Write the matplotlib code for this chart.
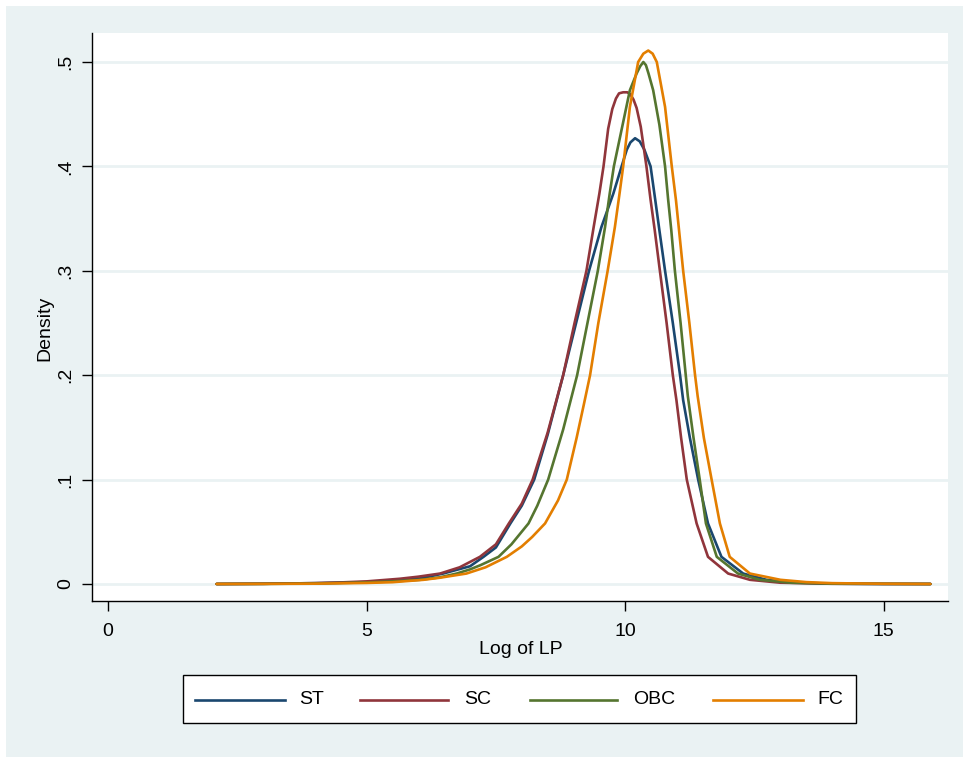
import matplotlib
matplotlib.use("Agg")
import matplotlib.pyplot as plt
from matplotlib.patches import Rectangle
from matplotlib.lines import Line2D

plt.rcParams['font.family'] = ['Liberation Sans', 'DejaVu Sans']

# ---- data ----
series_names = ["ST", "SC", "OBC", "FC"]
series_colors = ["#1A476F", "#90353B", "#55752F", "#E37E00"]

st_x = [2.1, 3.0, 4.0, 4.5, 5.0, 5.5, 6.0, 6.48, 7.0, 7.26, 7.5, 7.78, 8.0, 8.24, 8.5,
        8.8, 9.05, 9.3, 9.54, 9.77, 9.93, 10.03, 10.10, 10.19, 10.28, 10.37, 10.49, 10.58,
        10.66, 10.77, 10.92, 11.06, 11.12, 11.25, 11.41, 11.6, 11.86, 12.28, 12.73, 13.2,
        14.0, 15.0, 15.9]
st_y = [0.0, 0.0002, 0.0008, 0.0012, 0.0018, 0.003, 0.005, 0.010, 0.017, 0.026, 0.035, 0.058,
        0.075, 0.100, 0.143, 0.200, 0.250, 0.300, 0.342, 0.374, 0.400, 0.416, 0.423, 0.427,
        0.424, 0.416, 0.400, 0.368, 0.339, 0.300, 0.250, 0.200, 0.176, 0.140, 0.100, 0.058,
        0.026, 0.010, 0.004, 0.0015, 0.0003, 0.0, 0.0]

sc_x = [2.1, 3.0, 4.0, 4.5, 5.0, 5.64, 6.0, 6.42, 6.8, 7.19, 7.5, 7.75, 8.0, 8.21, 8.5, 8.8,
        9.02, 9.25, 9.39, 9.50, 9.58, 9.67, 9.75, 9.82, 9.88, 9.96, 10.04, 10.10, 10.16, 10.22,
        10.30, 10.41, 10.49, 10.57, 10.67, 10.80, 10.92, 10.99, 11.08, 11.19, 11.38, 11.6,
        11.99, 12.41, 13.0, 14.0, 15.9]
sc_y = [0.0, 0.0002, 0.0008, 0.0015, 0.0025, 0.005, 0.007, 0.010, 0.016, 0.026, 0.038, 0.058,
        0.077, 0.100, 0.145, 0.200, 0.250, 0.300, 0.342, 0.374, 0.400, 0.436, 0.455, 0.465,
        0.470, 0.471, 0.471, 0.469, 0.464, 0.456, 0.438, 0.400, 0.368, 0.339, 0.300, 0.250,
        0.200, 0.176, 0.140, 0.100, 0.058, 0.026, 0.010, 0.004, 0.0012, 0.0002, 0.0]

obc_x = [2.1, 3.0, 4.0, 5.0, 5.5, 6.03, 6.42, 6.74, 7.0, 7.2, 7.55, 7.8, 8.13, 8.3, 8.51, 8.8,
         9.07, 9.27, 9.47, 9.61, 9.70, 9.78, 9.95, 10.09, 10.22, 10.29, 10.35, 10.40, 10.45,
         10.54, 10.66, 10.77, 10.83, 10.89, 10.96, 11.07, 11.17, 11.21, 11.32, 11.44, 11.56,
         11.77, 12.18, 12.6, 13.2, 14.0, 15.9]
obc_y = [0.0, 0.0001, 0.0005, 0.0015, 0.0025, 0.004, 0.0064, 0.010, 0.014, 0.018, 0.026, 0.038,
         0.058, 0.075, 0.100, 0.148, 0.200, 0.250, 0.300, 0.342, 0.374, 0.400, 0.440, 0.473,
         0.489, 0.496, 0.500, 0.497, 0.489, 0.473, 0.440, 0.400, 0.368, 0.339, 0.300, 0.250,
         0.200, 0.180, 0.140, 0.100, 0.058, 0.026, 0.010, 0.004, 0.0012, 0.0003, 0.0]

fc_x = [2.1, 3.0, 4.0, 5.0, 5.5, 6.1, 6.42, 6.93, 7.3, 7.71, 8.0, 8.2, 8.45, 8.7, 8.87, 9.06,
        9.2, 9.32, 9.48, 9.66, 9.80, 9.89, 9.96, 10.09, 10.25, 10.35, 10.445, 10.53, 10.61,
        10.77, 10.9, 10.98, 11.04, 11.12, 11.24, 11.35, 11.4, 11.52, 11.67, 11.83, 12.02,
        12.41, 13.0, 13.5, 14.0, 15.0, 15.9]
fc_y = [0.0, 0.0001, 0.0003, 0.001, 0.0017, 0.004, 0.006, 0.010, 0.016, 0.026, 0.036, 0.045,
        0.058, 0.080, 0.100, 0.140, 0.172, 0.200, 0.250, 0.300, 0.342, 0.374, 0.400, 0.457,
        0.500, 0.508, 0.511, 0.508, 0.500, 0.457, 0.400, 0.368, 0.339, 0.300, 0.250, 0.200,
        0.180, 0.140, 0.100, 0.058, 0.026, 0.010, 0.004, 0.0018, 0.0008, 0.0002, 0.0]

xs = [st_x, sc_x, obc_x, fc_x]
ys = [st_y, sc_y, obc_y, fc_y]

x_ticks = [0, 5, 10, 15]
x_tick_labels = ["0", "5", "10", "15"]
y_ticks = [0, 0.1, 0.2, 0.3, 0.4, 0.5]
y_tick_labels = ["0", ".1", ".2", ".3", ".4", ".5"]

# ---- figure ----
W, H = 963, 757
fig = plt.figure(figsize=(W / 100, H / 100), dpi=100, facecolor="white")
bg = "#EAF2F3"
fig.patches.append(Rectangle((6 / W, 0), 1 - 6 / W, 1 - 6 / H, transform=fig.transFigure,
                             facecolor=bg, edgecolor="none", zorder=-10))

def fx(px):
    return px / W

def fy(py):
    return 1 - py / H

ax = fig.add_axes([fx(92), fy(601), fx(948) - fx(92), fy(33) - fy(601)])
ax.set_zorder(1)
ax.set_facecolor("white")
ax.set_xlim(-0.309, 16.24)
ax.set_ylim(-0.0163, 0.5278)

for yv in y_ticks:
    ax.axhline(yv, color=bg, lw=2.0, zorder=1)

for x, y, c in zip(xs, ys, series_colors):
    ax.plot(x, y, color=c, lw=1.9, zorder=3, solid_joinstyle="round", solid_capstyle="round")

for s in ["top", "right"]:
    ax.spines[s].set_visible(False)
for s in ["left", "bottom"]:
    ax.spines[s].set_linewidth(1.0)
    ax.spines[s].set_color("black")

ax.set_xticks(x_ticks)
ax.set_xticklabels(x_tick_labels, fontsize=14)
ax.set_yticks(y_ticks)
ax.set_yticklabels(y_tick_labels, fontsize=14, rotation=90, va="center")
ax.tick_params(axis="both", direction="out", length=7, width=1.0, colors="black")
ax.tick_params(axis="x", pad=9)
ax.tick_params(axis="y", pad=6)

fig.text(fx(521), fy(649), "Log of LP", ha="center", va="center", fontsize=14)
fig.text(fx(45), fy(328), "Density", ha="center", va="center", fontsize=14, rotation=90)

# legend box
fig.patches.append(Rectangle((fx(183), fy(723)), fx(856) - fx(183), fy(675) - fy(723),
                             transform=fig.transFigure, facecolor="white",
                             edgecolor="black", lw=1.0, zorder=2))
leg_lines = [(195, 285, 312), (360, 448, 478), (530, 617, 654), (713, 803, 830)]
for (x0, x1, xt), name, c in zip(leg_lines, series_names, series_colors):
    fig.add_artist(Line2D([fx(x0), fx(x1)], [fy(700), fy(700)], transform=fig.transFigure,
                          color=c, lw=1.9, zorder=3))
    fig.text(fx(xt), fy(700), name, ha="center", va="center", fontsize=14, zorder=3)

fig.savefig("out.png", dpi=100, facecolor="white")
